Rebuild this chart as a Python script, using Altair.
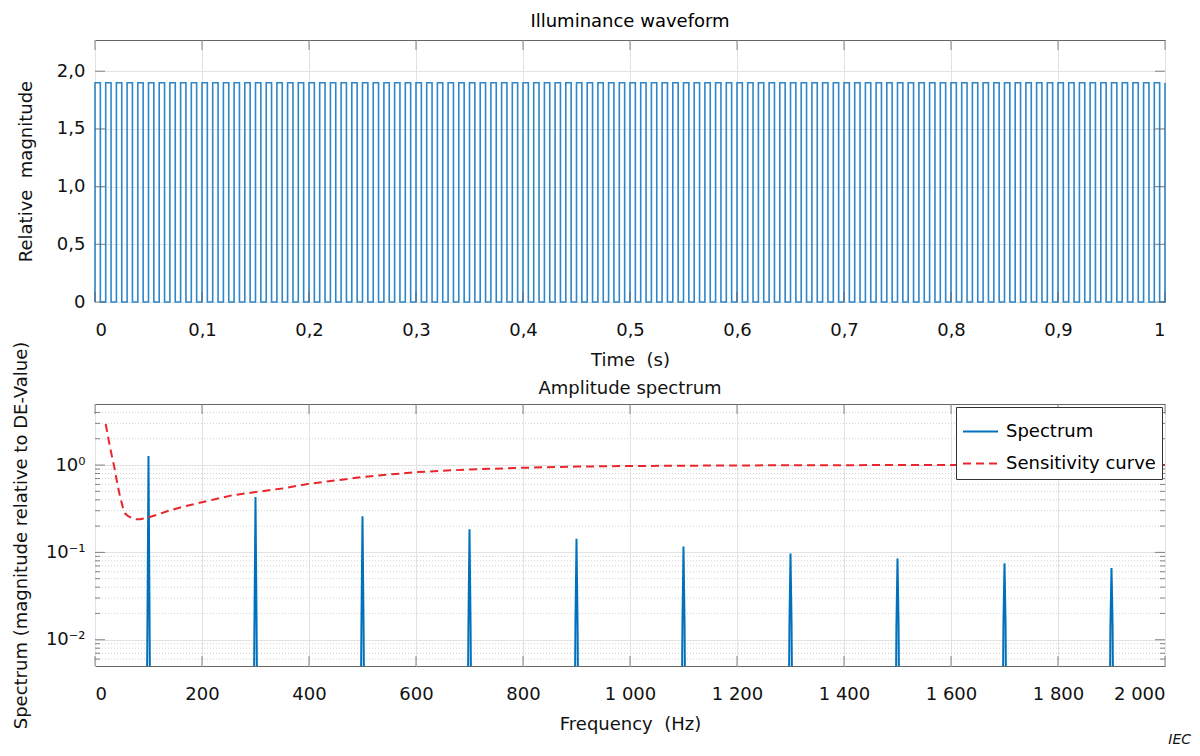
import altair as alt
import pandas as pd

FONT = "DejaVu Sans"

# ---------------- data ----------------
# Illuminance waveform: 100 Hz square wave, 50 % duty
wave_high = 1.9
wave_low = 0.0
half_period = 0.005   # s
n_half_periods = 200

# Amplitude spectrum (odd harmonics)
harmonic_freqs = [100, 300, 500, 700, 900, 1100, 1300, 1500, 1700, 1900]
harmonic_peaks = [1.27, 0.43, 0.26, 0.184, 0.143, 0.117, 0.097, 0.085, 0.075, 0.066]
spike_offsets = [-3, -2, 0, 2, 3]
spike_levels = [0.002, 0.015, None, 0.015, 0.002]

# Sensitivity curve
sens_freqs = [20, 28, 36, 42, 47, 52, 56, 62, 69, 76, 84, 92, 101, 120, 138, 170,
              200, 256, 300, 350, 400, 500, 600, 700, 800, 900, 1000, 1200, 1500, 2000]
sens_values = [2.95, 1.6, 0.95, 0.6, 0.43, 0.33, 0.28, 0.26, 0.246, 0.24, 0.24, 0.245,
               0.253, 0.275, 0.30, 0.34, 0.375, 0.45, 0.49, 0.54, 0.61, 0.73, 0.83,
               0.89, 0.93, 0.96, 0.975, 0.99, 1.0, 1.0]

# axis ticks
time_ticks = [0, 0.1, 0.2, 0.3, 0.4, 0.5, 0.6, 0.7, 0.8, 0.9, 1.0]
mag_ticks = [0, 0.5, 1.0, 1.5, 2.0]
freq_ticks = [0, 200, 400, 600, 800, 1000, 1200, 1400, 1600, 1800, 2000]
log_major = [0.01, 0.1, 1]
log_minor = [0.006, 0.007, 0.008, 0.009,
             0.02, 0.03, 0.04, 0.05, 0.06, 0.07, 0.08, 0.09,
             0.2, 0.3, 0.4, 0.5, 0.6, 0.7, 0.8, 0.9,
             2, 3, 4]

# ---------------- tables ----------------
wave_t = [0.0]
wave_v = [wave_low]
for i in range(n_half_periods + 1):
    wave_t.append(i * half_period)
    wave_v.append(wave_high if i % 2 == 0 else wave_low)
wave_df = pd.DataFrame({"t": wave_t, "v": wave_v})

spec_f, spec_v, spec_s = [0.0], [0.002], ["Spectrum"]
for f, p in zip(harmonic_freqs, harmonic_peaks):
    for off, lev in zip(spike_offsets, spike_levels):
        spec_f.append(f + off)
        spec_v.append(p if lev is None else lev)
        spec_s.append("Spectrum")
spec_f.append(2000)
spec_v.append(0.002)
spec_s.append("Spectrum")

lines_df = pd.DataFrame({
    "f": spec_f + sens_freqs,
    "v": spec_v + sens_values,
    "series": spec_s + ["Sensitivity curve"] * len(sens_freqs),
    "order": list(range(len(spec_f))) + list(range(len(sens_freqs))),
})

W, H = 1070, 262
TICK_COL = "#555555"
GRID_COL = "#e2e2e2"

# ---------------- top panel ----------------
tx = alt.Scale(domain=[0, 1], nice=False, zero=False)
ty = alt.Scale(domain=[0, 2.27], nice=False, zero=False)

time_lbl = "datum.value == 0 ? '0' : datum.value == 1 ? '1' : replace(format(datum.value, '.1f'), '.', ',')"
mag_lbl = "datum.value == 0 ? '0' : replace(format(datum.value, '.1f'), '.', ',')"

ax_time = alt.Axis(values=time_ticks, labelExpr=time_lbl, grid=True,
                   gridColor=GRID_COL, ticks=False, tickSize=0, domain=False,
                   labelPadding=19, titlePadding=12)
ax_mag = alt.Axis(values=mag_ticks, labelExpr=mag_lbl, grid=True,
                  gridColor=GRID_COL, ticks=False, tickSize=0, domain=False,
                  labelPadding=10, titlePadding=21)
T_TIME = "Time\u00a0\u00a0(s)"
T_MAG = "Relative\u00a0\u00a0magnitude"

def top_x():
    return alt.X("t:Q", scale=tx, title=T_TIME, axis=ax_time)

def top_y():
    return alt.Y("v:Q", scale=ty, title=T_MAG, axis=ax_mag)

wave = alt.Chart(wave_df).mark_line(
    interpolate="step-after", color="#2f86c8", strokeWidth=1.6
).encode(x=top_x(), y=top_y())

ttick_df = pd.DataFrame({"t": time_ticks})
mtick_df = pd.DataFrame({"v": mag_ticks})

top_ticks = []
for yv in [5, H - 5]:
    top_ticks.append(alt.Chart(ttick_df).mark_tick(size=10, thickness=1, color=TICK_COL).encode(
        x=top_x(), y=alt.value(yv)))
for xv in [5, W - 5]:
    top_ticks.append(alt.Chart(mtick_df).mark_tick(size=10, thickness=1, color=TICK_COL).encode(
        y=top_y(), x=alt.value(xv)))

top = alt.layer(wave, *top_ticks).properties(
    width=W, height=H,
    title=alt.TitleParams("Illuminance waveform", fontSize=18, fontWeight="normal",
                          font=FONT, offset=9),
)

# ---------------- bottom panel ----------------
fx = alt.Scale(domain=[0, 2000], nice=False, zero=False)
fy = alt.Scale(type="log", domain=[0.005, 5], nice=False)

freq_lbl = "replace(format(datum.value, ','), ',', ' ')"
log_lbl = "datum.value > 0.5 ? '10\u2070' : datum.value > 0.05 ? '10\u207b\u00b9' : '10\u207b\u00b2'"

ax_freq = alt.Axis(values=freq_ticks, labelExpr=freq_lbl, grid=True,
                   gridColor=GRID_COL, ticks=False, tickSize=0, domain=False,
                   labelPadding=19, titlePadding=12)
ax_log = alt.Axis(values=log_major, labelExpr=log_lbl, grid=True,
                  gridColor=GRID_COL, ticks=False, tickSize=0, domain=False,
                  labelPadding=10, titlePadding=15)
T_FREQ = "Frequency\u00a0\u00a0(Hz)"
T_SPEC = "Spectrum (magnitude relative to DE-Value)"

def bot_x():
    return alt.X("f:Q", scale=fx, title=T_FREQ, axis=ax_freq)

def bot_y():
    return alt.Y("v:Q", scale=fy, title=T_SPEC, axis=ax_log)

minor_df = pd.DataFrame({"v": log_minor})
major_df = pd.DataFrame({"v": log_major})
ftick_df = pd.DataFrame({"f": freq_ticks})

minor_grid = alt.Chart(minor_df).mark_rule(
    color="#d0d0d0", strokeDash=[1, 2], strokeWidth=1
).encode(y=bot_y())

series_dom = ["Spectrum", "Sensitivity curve"]
spec_lines = alt.Chart(lines_df).mark_line(clip=True, strokeWidth=2).encode(
    x=bot_x(), y=bot_y(),
    color=alt.Color("series:N",
                    scale=alt.Scale(domain=series_dom, range=["#0072bd", "#e8262b"]),
                    legend=alt.Legend(title=None, orient="top-right", offset=3,
                                      strokeColor="#333333", fillColor="white",
                                      padding=6, labelFontSize=18, labelFont=FONT,
                                      symbolType="stroke", symbolSize=1225,
                                      symbolStrokeWidth=2, rowPadding=4,
                                      labelOffset=7)),
    strokeDash=alt.StrokeDash("series:N",
                              scale=alt.Scale(domain=series_dom, range=[[1, 0], [8, 5]]),
                              legend=alt.Legend(title=None, orient="top-right", offset=3)),
    order="order:Q",
)

bot_ticks = []
for yv in [5, H - 5]:
    bot_ticks.append(alt.Chart(ftick_df).mark_tick(size=10, thickness=1, color=TICK_COL).encode(
        x=bot_x(), y=alt.value(yv)))
for xv in [5, W - 5]:
    bot_ticks.append(alt.Chart(major_df).mark_tick(size=10, thickness=1, color=TICK_COL).encode(
        y=bot_y(), x=alt.value(xv)))
for xv in [2.5, W - 2.5]:
    bot_ticks.append(alt.Chart(minor_df).mark_tick(size=5, thickness=1, color=TICK_COL).encode(
        y=bot_y(), x=alt.value(xv)))

notes_df = pd.DataFrame({"label": ["Amplitude spectrum"]})
bot_title = alt.Chart(notes_df).mark_text(
    fontSize=18, font=FONT, align="center", baseline="middle", color="#111111"
).encode(text="label:N", x=alt.value(W / 2), y=alt.value(-15))

iec_df = pd.DataFrame({"label": ["IEC"]})
iec = alt.Chart(iec_df).mark_text(
    fontStyle="italic", fontSize=14, font=FONT, align="right", baseline="middle",
    color="#111111"
).encode(text="label:N", x=alt.value(W + 26), y=alt.value(H + 74))

bottom = alt.layer(minor_grid, spec_lines, *bot_ticks, bot_title, iec).properties(
    width=W, height=H,
)

chart = alt.vconcat(top, bottom, spacing=102, bounds="flush").resolve_legend(
    color="independent", strokeDash="independent"
).configure(
    font=FONT,
    padding={"left": 3, "top": 4, "right": 0, "bottom": 0},
).configure_view(
    stroke="#666666", strokeWidth=1
).configure_axis(
    labelFontSize=18, titleFontSize=18, labelFont=FONT, titleFont=FONT,
    labelColor="#111111", titleColor="#111111", titleFontWeight="normal",
)

chart.save("out.html", embed_options={"renderer": "svg", "actions": False})
